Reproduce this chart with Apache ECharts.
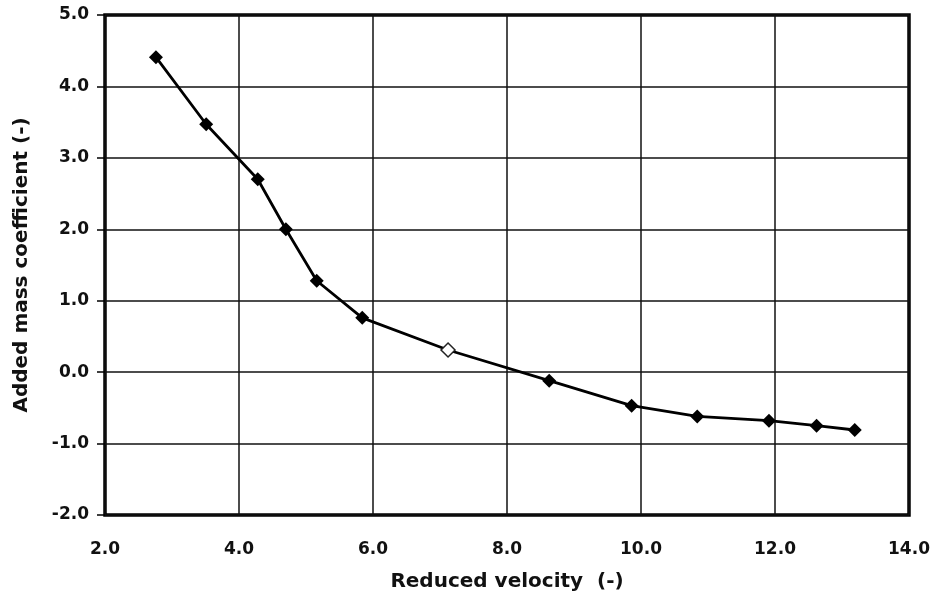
<!DOCTYPE html>
<html>
<head>
<meta charset="utf-8">
<script src="https://cdn.jsdelivr.net/npm/echarts@6/dist/echarts.min.js"></script>
<style>
  html, body { margin: 0; padding: 0; background: #fff; }
  #chart { width: 936px; height: 603px; }
</style>
</head>
<body>
<div id="chart"></div>
<script>
// Reduced velocity (x) and added mass coefficient (y)
const reducedVelocity = [2.76, 3.51, 4.28, 4.70, 5.16, 5.84, 7.12, 8.63, 9.86, 10.84, 11.91, 12.62, 13.19];
const addedMass      = [4.41, 3.47, 2.70, 2.00, 1.28, 0.76, 0.31, -0.12, -0.47, -0.62, -0.68, -0.75, -0.81];
// index of the point drawn with an open marker
const openMarkerIndex = 6;

const xTitle = 'Reduced velocity  (-)';
const yTitle = 'Added mass coefficient (-)';

const points = reducedVelocity.map((v, i) => {
  const p = { value: [v, addedMass[i]] };
  if (i === openMarkerIndex) {
    p.itemStyle = { color: '#fff', borderColor: '#222', borderWidth: 1.5 };
  }
  return p;
});

const font = { fontFamily: 'DejaVu Sans, Arial, sans-serif', fontWeight: 'bold', color: '#111' };

const chart = echarts.init(document.getElementById('chart'), null, { renderer: 'canvas' });
chart.setOption({
  animation: false,
  backgroundColor: '#fff',
  grid: { left: 105, top: 15, right: 27, bottom: 88, show: true, borderColor: '#000', borderWidth: 3.5, backgroundColor: 'transparent' },
  xAxis: {
    type: 'value', min: 2, max: 14, interval: 2,
    name: xTitle, nameLocation: 'middle', nameGap: 57,
    nameTextStyle: Object.assign({ fontSize: 20 }, font),
    axisLine: { show: false },
    axisTick: { show: false },
    axisLabel: Object.assign({ fontSize: 17, margin: 26, formatter: v => v.toFixed(1) }, font),
    splitLine: { show: true, lineStyle: { color: '#111', width: 1.5 } }
  },
  yAxis: {
    type: 'value', min: -2, max: 5, interval: 1,
    name: yTitle, nameLocation: 'middle', nameGap: 73, nameRotate: 90,
    nameTextStyle: Object.assign({ fontSize: 20 }, font),
    axisLine: { show: false },
    axisTick: { show: true, length: 8, inside: false, lineStyle: { color: '#000', width: 1.5 } },
    axisLabel: Object.assign({ fontSize: 17, margin: 16, formatter: v => v.toFixed(1) }, font),
    splitLine: { show: true, lineStyle: { color: '#111', width: 1.5 } }
  },
  series: [{
    type: 'line',
    data: points,
    symbol: 'diamond',
    symbolSize: 14,
    lineStyle: { color: '#000', width: 2.8 },
    itemStyle: { color: '#000' }
  }]
});
</script>
</body>
</html>
